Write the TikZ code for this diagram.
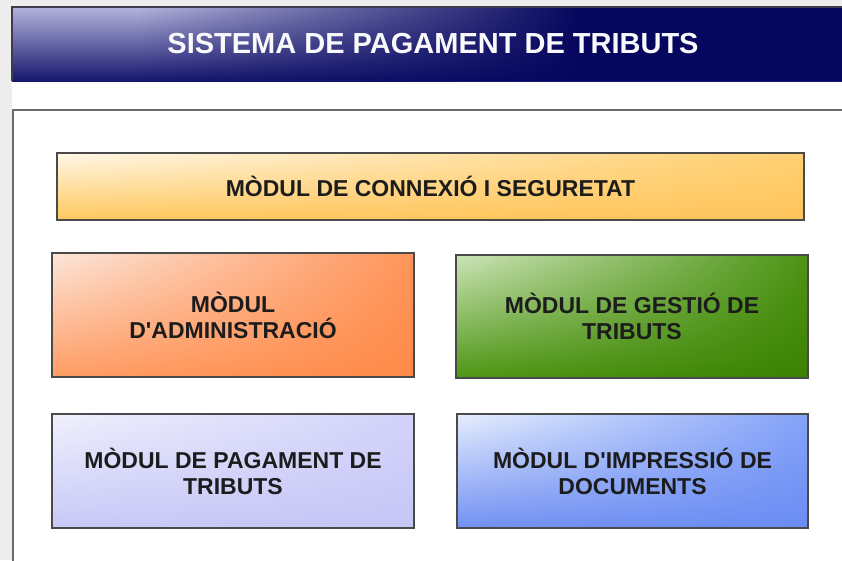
\documentclass[tikz,border=0pt]{standalone}
\usepackage{fontspec}
\setmainfont{Liberation Sans}
\usetikzlibrary{fadings,shadings}

\definecolor{pagegray}{HTML}{EDEDED}
\definecolor{paneledge}{HTML}{6A6A6A}
\definecolor{boxedge}{HTML}{4A4A4A}
\definecolor{modtext}{HTML}{1C1C1C}
\definecolor{navy}{HTML}{06065E}
\definecolor{lavtop}{HTML}{B4B4DC}
\definecolor{lavbot}{HTML}{16166E}
% colors dels moduls
\definecolor{conUL}{HTML}{FFF7E8}\definecolor{conUR}{HTML}{FFD070}
\definecolor{conLL}{HTML}{FFC85C}\definecolor{conLR}{HTML}{FFC45C}
\definecolor{admUL}{HTML}{FCE6DA}\definecolor{admUR}{HTML}{FF945A}
\definecolor{admLL}{HTML}{FF9C64}\definecolor{admLR}{HTML}{FF8A48}
\definecolor{gesUL}{HTML}{CDE4B8}\definecolor{gesUR}{HTML}{4C9414}
\definecolor{gesLL}{HTML}{4E9614}\definecolor{gesLR}{HTML}{3A8200}
\definecolor{pagUL}{HTML}{F0F0FD}\definecolor{pagUR}{HTML}{D2D2FA}
\definecolor{pagLL}{HTML}{C8C8F8}\definecolor{pagLR}{HTML}{C6C6F6}
\definecolor{impUL}{HTML}{E6EEFD}\definecolor{impUR}{HTML}{84A2F8}
\definecolor{impLL}{HTML}{7290F2}\definecolor{impLR}{HTML}{6A8CF4}

\newcommand{\modfont}{\fontsize{23}{26}\selectfont\bfseries}
\newcommand{\titfont}{\fontsize{29}{32}\selectfont\bfseries}

\tikzfading[name=tonavy, left color=transparent!100, right color=transparent!0]

\tikzset{
  modul/.style={draw=boxedge, line width=2pt, align=center, font=\modfont,
    text=modtext, inner sep=0pt, shade,
    upper left=#1UL, upper right=#1UR, lower left=#1LL, lower right=#1LR},
}

\begin{document}
\begin{tikzpicture}[x=1pt, y=-1pt]
\clip (0,0) rectangle (842,560);
\fill[pagegray] (0,0) rectangle (842,560);
\fill[white] (12,81) rectangle (842,110);
% barra del titol
\shade[top color=lavtop, bottom color=lavbot] (12,7) rectangle (850,81);
\fill[navy, path fading=tonavy] (140,7) rectangle (580,81);
\fill[navy] (579,7) rectangle (850,81);
\draw[draw=boxedge!80!navy, line width=1.5pt] (12,81) -- (12,7) -- (850,7);
\node (titol) at (433,44) [font=\titfont, text=white!92!lavtop] {SISTEMA DE PAGAMENT DE TRIBUTS};
% panell
\draw[fill=white, draw=paneledge, line width=2.5pt] (13,110) rectangle (860,580);
% moduls
\node (connexio) at (430.5,186.5) [modul=con, minimum width=747, minimum height=67]
  {MÒDUL DE CONNEXIÓ I SEGURETAT};
\node (admin) at (233,315) [modul=adm, minimum width=362, minimum height=124]
  {MÒDUL\\D\textquotesingle ADMINISTRACIÓ};
\node (gestio) at (632,316.5) [modul=ges, minimum width=352, minimum height=123]
  {MÒDUL DE GESTIÓ DE\\TRIBUTS};
\node (pagament) at (233,471) [modul=pag, minimum width=362, minimum height=114]
  {MÒDUL DE PAGAMENT DE\\TRIBUTS};
\node (impressio) at (632.5,471) [modul=imp, minimum width=351, minimum height=114]
  {MÒDUL D\textquotesingle IMPRESSIÓ DE\\DOCUMENTS};
\end{tikzpicture}
\end{document}
